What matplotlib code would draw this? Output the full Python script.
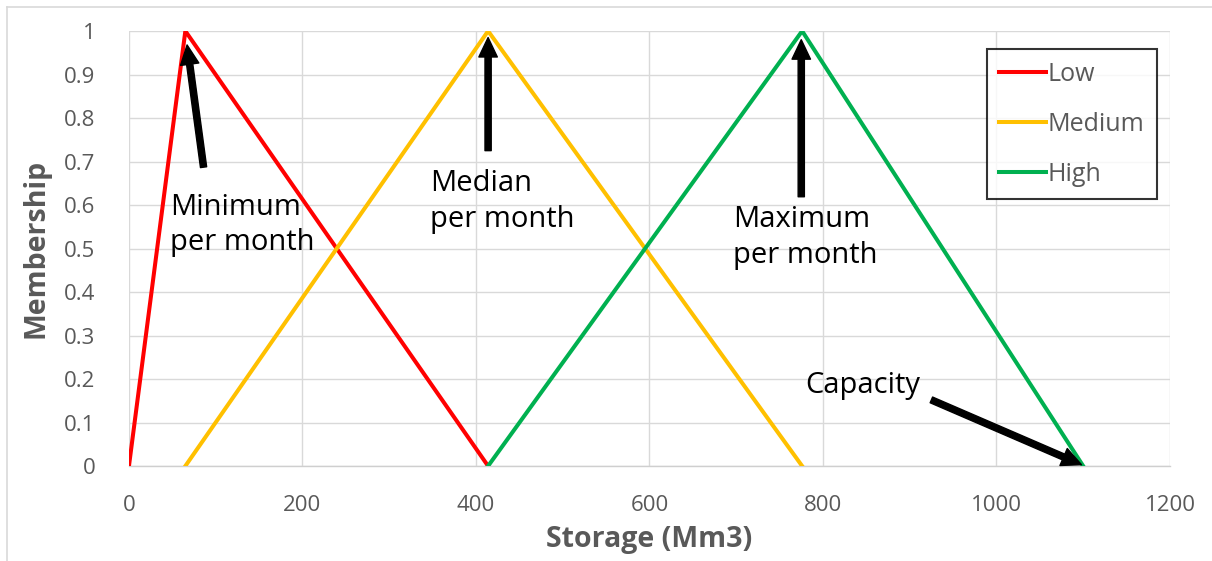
import matplotlib
matplotlib.use("Agg")
import matplotlib.pyplot as plt
from matplotlib.lines import Line2D

plt.rcParams['font.family'] = ['Open Sans', 'DejaVu Sans']

# membership functions (storage in Mm3)
low_x = [0, 65, 414]
low_y = [0, 1, 0]
med_x = [65, 414, 776]
med_y = [0, 1, 0]
high_x = [414, 776, 1100]
high_y = [0, 1, 0]

xticks = [0, 200, 400, 600, 800, 1000, 1200]
yticks = [0, 0.1, 0.2, 0.3, 0.4, 0.5, 0.6, 0.7, 0.8, 0.9, 1]
ytick_labels = ['0', '0.1', '0.2', '0.3', '0.4', '0.5', '0.6', '0.7', '0.8', '0.9', '1']

# annotations: text, text pos, arrow tail, arrow head
notes = [
    ('Minimum\nper month', (47, 0.628), (86, 0.687), (67, 0.968)),
    ('Median\nper month', (347, 0.682), (414, 0.725), (414, 0.985)),
    ('Maximum\nper month', (696, 0.600), (775, 0.619), (775, 0.98)),
    ('Capacity', (780, 0.218), (925, 0.152), (1098, 0.003)),
]

gray = '#595959'

fig = plt.figure(figsize=(12.12, 5.61), dpi=100)
ax = fig.add_axes([0.1064, 0.1693, 0.8589, 0.7754])

lw = 2.9
ax.plot(low_x, low_y, color='#FF0000', lw=lw, label='Low', solid_joinstyle='miter', zorder=3)
ax.plot(med_x, med_y, color='#FFC000', lw=lw, label='Medium', solid_joinstyle='miter', zorder=3)
ax.plot(high_x, high_y, color='#00B050', lw=lw, label='High', solid_joinstyle='miter', zorder=3)

ax.set_xlim(0, 1200)
ax.set_ylim(0, 1)
ax.set_xticks(xticks)
ax.set_yticks(yticks)
ax.set_yticklabels(ytick_labels)
ax.tick_params(length=0, labelsize=16, labelcolor=gray)
ax.tick_params(axis='x', pad=21)
ax.tick_params(axis='y', pad=24)
ax.grid(True, color='#d9d9d9', lw=1.0)
ax.set_axisbelow(True)
for s in ['top', 'right', 'left']:
    ax.spines[s].set_visible(False)
ax.spines['bottom'].set_color('#cfcfcf')
ax.spines['bottom'].set_linewidth(1.0)

ax.set_xlabel('Storage (Mm3)', fontsize=20.5, fontweight='bold', color=gray, labelpad=6)
ax.set_ylabel('Membership', fontsize=20.5, fontweight='bold', color=gray, labelpad=10)

for text, tpos, tail, head in notes:
    ax.text(tpos[0], tpos[1], text, fontsize=21, color='black', ha='left', va='top',
            linespacing=1.3, zorder=4)
    ax.annotate('', xy=head, xytext=tail,
                arrowprops=dict(arrowstyle='simple,head_length=1.0,head_width=0.95,tail_width=0.32',
                                mutation_scale=14, color='black', shrinkA=0, shrinkB=0),
                zorder=5)

leg = ax.legend(loc='upper right', bbox_to_anchor=(0.9875, 0.9586), borderaxespad=0,
                fontsize=18, frameon=True, fancybox=False, edgecolor='black',
                handlelength=1.85, handletextpad=0.08, labelspacing=1.0, borderpad=0.5)
leg.get_frame().set_linewidth(1.5)
for t in leg.get_texts():
    t.set_color(gray)

# chart border (Excel style), only top and left visible
fig.add_artist(Line2D([7 / 1212, 1], [1 - 7 / 561, 1 - 7 / 561], color='#d9d9d9', lw=1.2))
fig.add_artist(Line2D([7 / 1212, 7 / 1212], [0, 1 - 7 / 561], color='#d9d9d9', lw=1.2))

fig.savefig('out.png', dpi=100)
